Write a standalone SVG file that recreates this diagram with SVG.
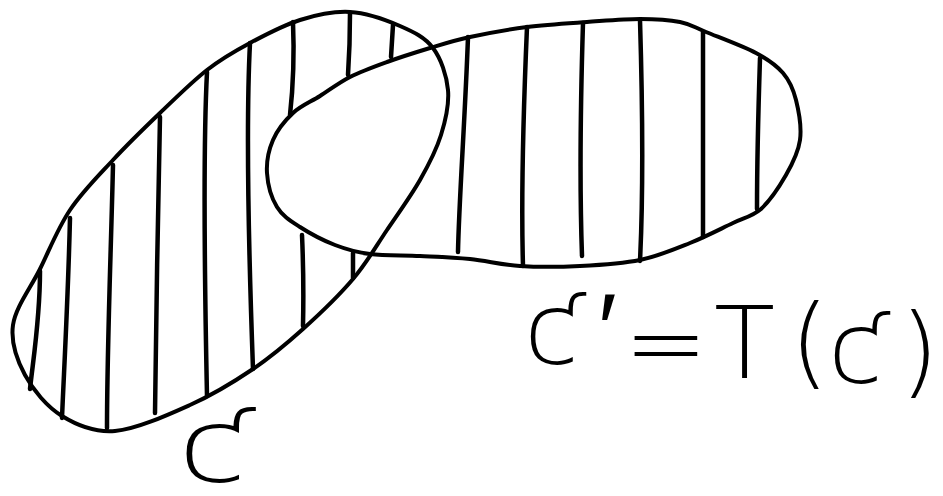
<svg xmlns="http://www.w3.org/2000/svg" width="943" height="496" viewBox="0 0 943 496">
<style>
.outline{fill:none;stroke:#000;stroke-width:4;stroke-linejoin:round;stroke-linecap:round}
.hatch{fill:none;stroke:#000;stroke-width:4.5;stroke-linecap:round}
.lbl{font-family:"DejaVu Sans","Liberation Sans",sans-serif;font-weight:200;fill:#000}
</style>
<rect width="943" height="496" fill="#fff"/>
<g id="region-C">
<path class="outline" d="M350,12 C366.7,13 386.2,20 400,26 C413.8,32 425,37.3 433,48 C441,58.7 446.7,75.5 448,90 C449.3,104.5 445.7,120 441,135 C436.3,150 429,164.2 420,180 C411,195.8 398.2,213.5 387,230 C375.8,246.5 367,262.5 353,279 C339,295.5 319.7,314 303,329 C286.3,344 271.8,356.3 253,369 C234.2,381.7 213,394.7 190,405 C167,415.3 136.3,429.2 115,431 C93.7,432.8 77,425.3 62,416 C47,406.7 33.2,390.2 25,375 C16.8,359.8 10.5,342.7 13,325 C15.5,307.3 30.5,288.2 40,269 C49.5,249.8 57.8,228.2 70,210 C82.2,191.8 98,176.2 113,160 C128,143.8 144.3,128 160,113 C175.7,98 192,81.7 207,70 C222,58.3 234.5,51.3 250,43 C265.5,34.7 283.3,25.2 300,20 C316.7,14.8 333.3,11 350,12 Z"/>
<path class="hatch" d="M293,22 Q295,70 290,115"/>
<path class="hatch" d="M250,43 C246,120 249,260 253,369"/>
<path class="hatch" d="M207,72 C203,150 205,300 207,396"/>
<path class="hatch" d="M160,117 C158,200 156,330 155,413"/>
<path class="hatch" d="M113,165 C111,250 107,350 107,428"/>
<path class="hatch" d="M70,218 C68,300 64,370 62,418"/>
<path class="hatch" d="M40,271 C40,320 33,360 30,389"/>
<path class="hatch" d="M302,235 Q304,280 303,326"/>
<path class="hatch" d="M353,253 L353,278"/>
<path class="hatch" d="M350,13 Q350,45 348,75"/>
<path class="hatch" d="M393,25 L391,57"/>
</g>
<g id="region-TC">
<path class="outline" d="M267,173 C266.3,161.8 268.7,150 273,140 C277.3,130 285.2,120.3 293,113 C300.8,105.7 310.5,102 320,96 C329.5,90 338.8,82.7 350,77 C361.2,71.3 373.7,66.8 387,62 C400.3,57.2 416.2,52.2 430,48 C443.8,43.8 453.8,40.5 470,37 C486.2,33.5 507.5,29.5 527,27 C546.5,24.5 568.2,23.3 587,22 C605.8,20.7 624.5,19 640,19 C655.5,19 669,19.8 680,22 C691,24.2 693.3,26.8 706,32 C718.7,37.2 743.2,46.2 756,53 C768.8,59.8 776.3,65.2 783,73 C789.7,80.8 793.2,88.8 796,100 C798.8,111.2 801.7,127.5 800,140 C798.3,152.5 792.7,163.3 786,175 C779.3,186.7 770.8,200 761,209 C752.2,216.5 744.7,217.5 733,223 C721.3,228.5 705.5,236.8 690,243 C674.5,249.2 658.3,256.2 640,260 C621.7,263.8 600,265 580,266 C560,267 538.3,267.2 520,266 C501.7,264.8 486.7,260.7 470,259 C453.3,257.3 436.7,256.8 420,256 C403.3,255.2 384.2,255.7 370,254 C355.8,252.3 346.7,249.5 335,245 C323.3,240.5 309.7,233.3 300,227 C290.3,220.7 282.5,216 277,207 C271.5,198 267.7,184.2 267,173 Z"/>
<path class="hatch" d="M468,37 C465,120 459,200 458,252"/>
<path class="hatch" d="M527,27 C523,120 521,200 523,266"/>
<path class="hatch" d="M583,23 C580,120 580,200 582,256"/>
<path class="hatch" d="M640,20 C643,120 643,200 640,261"/>
<path class="hatch" d="M703,32 C703,120 703,180 703,237"/>
<path class="hatch" d="M760,58 C758,120 757,180 757,209"/>
</g>
<g id="label-C">
<text class="lbl" font-size="100" transform="translate(178,482) scale(1.25,1.03)">ƈ</text>
</g>
<g id="label-TC">
<text class="lbl" font-size="100"><tspan x="524" y="364">ƈ</tspan><tspan x="598" y="364">′</tspan><tspan x="624" y="377">=</tspan><tspan x="714" y="378">T</tspan><tspan x="790" y="376">(</tspan><tspan x="828" y="383">ƈ</tspan><tspan x="900" y="385">)</tspan></text>
</g>
</svg>
